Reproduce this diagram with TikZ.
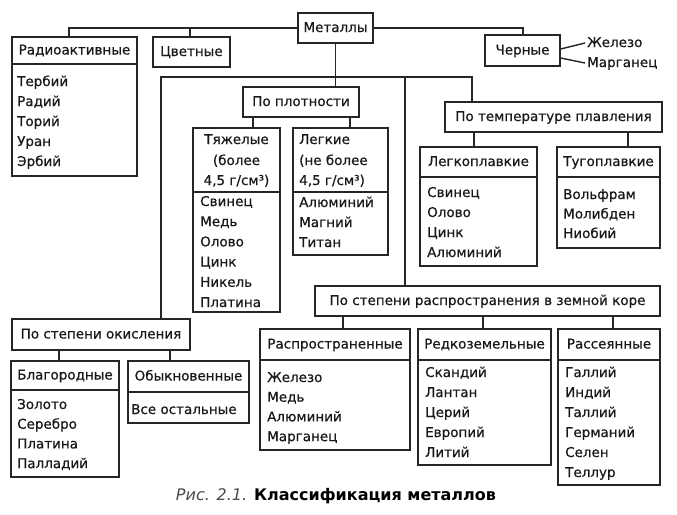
\documentclass[tikz,border=0pt]{standalone}
\usepackage{fontspec}
\setmainfont{DejaVu Sans}
\newfontfamily\bodyfont{DejaVu Sans}[FakeBold=0.6]
\usetikzlibrary{fit}
\tikzset{
  ln/.style={draw=black!85, line width=1.4pt},
  boxst/.style={ln, rectangle, inner sep=0pt, fill=none},
  txt/.style={inner sep=0pt, text height=8pt, text depth=0pt, text=black!90, font=\bodyfont\fontsize{13.5}{20}\selectfont},
}
\newcommand\cboxsep[6]{%
  \node[boxst, fit={(#2,#3) (#4,#5)}] (#1) {};
  \draw[ln] (#1.west |- 0,#6) -- (#1.east |- 0,#6);}
\newcommand\cboxplain[5]{%
  \node[boxst, fit={(#2,#3) (#4,#5)}] (#1) {};}
\newcommand\itemlist[5]{%
  \foreach \t [count=\i from 0] in {#5} {\node[txt, anchor=west] (#1-\i) at (#2, {#3+\i*#4}) {\t};}}
\begin{document}
\begin{tikzpicture}[x=1pt,y=-1pt]
\useasboundingbox[fill=white] (0,0) rectangle (677,514);

% top level
\cboxplain{met}{298}{13}{373}{43}
\node[txt] (met-h) at (335.5,28) {Металлы};
\cboxsep{rad}{12}{37}{137}{176}{64}
\node[txt] (rad-h) at (74.5,50.5) {Радиоактивные};
\itemlist{rad}{17}{82}{20}{Тербий,Радий,Торий,Уран,Эрбий}
\cboxplain{cvet}{153}{37}{230}{67}
\node[txt] (cvet-h) at (191.5,52) {Цветные};
\cboxplain{cher}{485}{35}{560}{66}
\node[txt] (cher-h) at (522.5,50.5) {Черные};
\node[txt, anchor=west] (zhel) at (587,43) {Железо};
\node[txt, anchor=west] (marg) at (587,63) {Марганец};

% density
\cboxplain{plot}{243}{87}{359}{117}
\node[txt] (plot-h) at (301,102) {По плотности};
\cboxsep{tyazh}{193}{128}{280}{312}{192}
\node[txt] (tyazh-h1) at (236.5,140) {Тяжелые};
\node[txt] (tyazh-h2) at (236.5,161) {(более};
\node[txt] (tyazh-h3) at (236.5,181) {4,5 г/см³)};
\itemlist{tyazh}{200}{202}{20.2}{Свинец,Медь,Олово,Цинк,Никель,Платина}
\cboxsep{legk}{293}{128}{388}{255}{192}
\node[txt, anchor=west] (legk-h1) at (299,140) {Легкие};
\node[txt, anchor=west] (legk-h2) at (299,161) {(не более};
\node[txt, anchor=west] (legk-h3) at (299,181) {4,5 г/см³)};
\itemlist{legk}{299}{203}{20}{Алюминий,Магний,Титан}

% melting
\cboxplain{temp}{445}{102}{662}{132}
\node[txt] (temp-h) at (553.5,117) {По температуре плавления};
\cboxsep{lpl}{420}{147}{537}{266}{177}
\node[txt] (lpl-h) at (478.5,162) {Легкоплавкие};
\itemlist{lpl}{427}{193}{20}{Свинец,Олово,Цинк,Алюминий}
\cboxsep{tug}{557}{147}{660}{248}{177}
\node[txt] (tug-h) at (608.5,162) {Тугоплавкие};
\itemlist{tug}{563}{195}{19.5}{Вольфрам,Молибден,Ниобий}

% abundance
\cboxplain{rasp}{315}{286}{660}{316}
\node[txt] (rasp-h) at (487.5,301) {По степени распространения в земной коре};
\cboxsep{rspr}{260}{329}{410}{450}{360}
\node[txt] (rspr-h) at (335,344.5) {Распространенные};
\itemlist{rspr}{267}{378}{19.7}{Железо,Медь,Алюминий,Марганец}
\cboxsep{redk}{418}{329}{551}{465}{360}
\node[txt] (redk-h) at (484.5,344.5) {Редкоземельные};
\itemlist{redk}{425}{373}{20}{Скандий,Лантан,Церий,Европий,Литий}
\cboxsep{rass}{558}{329}{660}{485}{360}
\node[txt] (rass-h) at (609,344.5) {Рассеянные};
\itemlist{rass}{565}{373}{20}{Галлий,Индий,Таллий,Германий,Селен,Теллур}

% oxidation
\cboxplain{okis}{12}{319}{190}{350}
\node[txt] (okis-h) at (101,334.5) {По степени окисления};
\cboxsep{blag}{11}{361}{119}{477}{390}
\node[txt] (blag-h) at (65,375.5) {Благородные};
\itemlist{blag}{17}{405}{19.7}{Золото,Серебро,Платина,Палладий}
\cboxsep{obyk}{128}{361}{249}{423}{392}
\node[txt] (obyk-h) at (188.5,376.5) {Обыкновенные};
\itemlist{obyk}{131}{410}{20}{Все остальные}

% connectors
\draw[ln] (met.west) -| (69,0 |- rad.north);
\draw[ln] (190,0 |- met.west) -- (190,0 |- cvet.north);
\draw[ln] (met.east) -| (523,0 |- cher.north);
\draw[ln] (cher.east |- 0,49) -- ([xshift=-2pt]zhel.west);
\draw[ln] (cher.east |- 0,58) -- ([xshift=-2pt]marg.west);
\coordinate (jn) at (335.5,77);
\draw[ln] (met.south) -- (met.south |- plot.north);
\draw[ln] (161,0 |- okis.north) |- (jn) -| (472,0 |- temp.north);
\draw[ln] (405,0 |- jn) -- (405,0 |- rasp.north);
\draw[ln] (253,0 |- plot.south) -- (253,0 |- tyazh.north);
\draw[ln] (350,0 |- plot.south) -- (350,0 |- legk.north);
\draw[ln] (474,0 |- temp.south) -- (474,0 |- lpl.north);
\draw[ln] (628,0 |- temp.south) -- (628,0 |- tug.north);
\draw[ln] (343,0 |- rasp.south) -- (343,0 |- rspr.north);
\draw[ln] (483,0 |- rasp.south) -- (483,0 |- redk.north);
\draw[ln] (613,0 |- rasp.south) -- (613,0 |- rass.north);
\draw[ln] (59,0 |- okis.south) -- (59,0 |- blag.north);
\draw[ln] (170,0 |- okis.south) -- (170,0 |- obyk.north);

% caption
\node[inner sep=0pt, text height=9pt, text depth=0pt, font=\fontsize{16}{20}\selectfont] (cap) at (336,496) {{\itshape\color{black!70}Рис. 2.1.} \textbf{Классификация металлов}};
\end{tikzpicture}
\end{document}
